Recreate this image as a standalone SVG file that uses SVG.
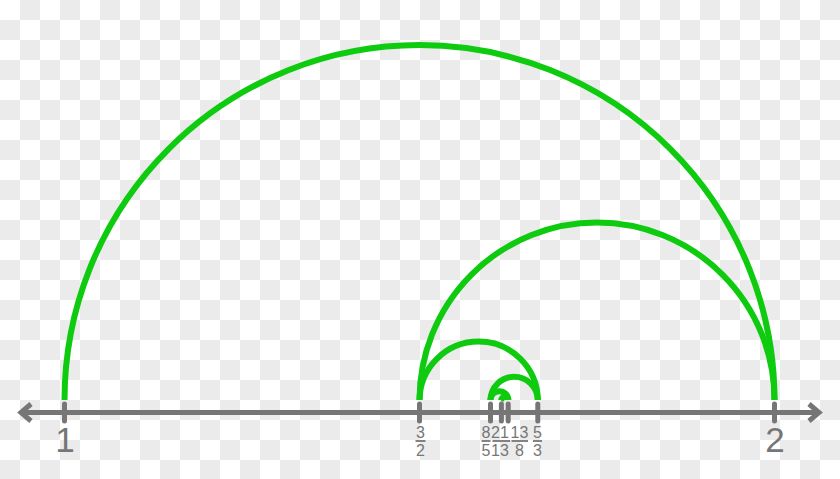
<svg xmlns="http://www.w3.org/2000/svg" width="840" height="479" viewBox="0 0 840 479">
<defs>
<pattern id="checker" width="40" height="40" patternUnits="userSpaceOnUse">
<rect width="40" height="40" fill="#ffffff"/>
<rect x="20" y="0" width="20" height="20" fill="#ebebeb"/>
<rect x="0" y="20" width="20" height="20" fill="#ebebeb"/>
</pattern>
<style>
.arc{fill:none;stroke:#0fcb0f;stroke-width:6}
.axis{fill:none;stroke:#767676;stroke-width:5}
.tick{stroke:#767676;stroke-width:5;stroke-linecap:round}
.big{font-family:"Liberation Sans",Arial,sans-serif;font-size:35px;fill:#767676;text-anchor:middle}
.fr{font-family:"Liberation Sans",Arial,sans-serif;font-size:16px;fill:#767676;text-anchor:middle}
.bar{stroke:#767676;stroke-width:1.8}
</style>
</defs>
<rect width="840" height="479" fill="url(#checker)"/>
<g id="connectors">
<path class="arc" d="M64.5,400 A355,355 0 0 1 774.5,400"/>
<path class="arc" d="M419.5,400 A177.5,177.5 0 0 1 774.5,400"/>
<path class="arc" d="M419.5,400 A59.17,59.17 0 0 1 537.83,400"/>
<path class="arc" d="M490.5,400 A23.67,23.67 0 0 1 537.83,400"/>
<path class="arc" d="M490.5,400 A8.875,8.875 0 0 1 508.25,400"/>
<path class="arc" d="M501.42,400 A3.415,3.415 0 0 1 508.25,400"/>
<path class="arc" d="M501.42,400 A1.315,1.315 0 0 1 504.05,400"/>
</g>
<g id="axis">
<line class="axis" x1="22" y1="412.5" x2="817" y2="412.5"/>
<path class="axis" d="M31,404 L21,412.5 L31,421" stroke-linejoin="miter"/>
<path class="axis" d="M809,404 L819,412.5 L809,421" stroke-linejoin="miter"/>
</g>
<g id="tick-1">
<line class="tick" x1="64.5" y1="404" x2="64.5" y2="421"/>
<text class="big" x="65" y="451.5">1</text>
</g>
<g id="tick-2">
<line class="tick" x1="774.5" y1="404" x2="774.5" y2="421"/>
<text class="big" x="775" y="451.5">2</text>
</g>
<g id="tick-3-2">
<line class="tick" x1="419.5" y1="404" x2="419.5" y2="421"/>
<text class="fr" x="420.5" y="438">3</text>
<line class="bar" x1="415.5" y1="441" x2="425.5" y2="441"/>
<text class="fr" x="420.5" y="456">2</text>
</g>
<g id="tick-8-5">
<line class="tick" x1="490.5" y1="404" x2="490.5" y2="421"/>
<text class="fr" x="486" y="438">8</text>
<line class="bar" x1="481.5" y1="441" x2="490.5" y2="441"/>
<text class="fr" x="486" y="456">5</text>
</g>
<g id="tick-21-13">
<line class="tick" x1="501.4" y1="404" x2="501.4" y2="421"/>
<text class="fr" x="500" y="438">21</text>
<line class="bar" x1="492.5" y1="441" x2="510" y2="441"/>
<text class="fr" x="500" y="456">13</text>
</g>
<g id="tick-13-8">
<line class="tick" x1="508.2" y1="404" x2="508.2" y2="421"/>
<text class="fr" x="519.5" y="438">13</text>
<line class="bar" x1="511.5" y1="441" x2="528" y2="441"/>
<text class="fr" x="519.5" y="456">8</text>
</g>
<g id="tick-5-3">
<line class="tick" x1="537.8" y1="404" x2="537.8" y2="421"/>
<text class="fr" x="537.5" y="438">5</text>
<line class="bar" x1="533" y1="441" x2="542" y2="441"/>
<text class="fr" x="537.5" y="456">3</text>
</g>
</svg>
